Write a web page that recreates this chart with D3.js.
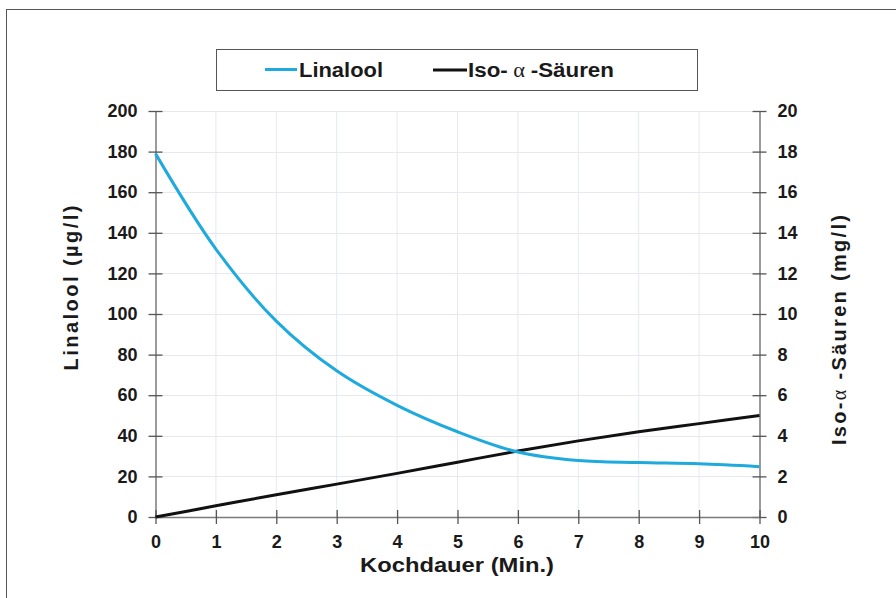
<!DOCTYPE html>
<html>
<head>
<meta charset="utf-8">
<script src="https://cdn.jsdelivr.net/npm/d3@7/dist/d3.min.js"></script>
<style>
  body { margin: 0; background: #fff; }
  svg { display: block; }
  text { font-family: "Liberation Sans", Arial, sans-serif; font-weight: bold; fill: #1a1a1a; }
</style>
</head>
<body>
<svg id="chart" width="896" height="598"></svg>
<script>
const minutes = [0, 1, 2, 3, 4, 5, 6, 7, 8, 9, 10];
const linalool = [179, 132, 96.5, 72, 55, 42, 32, 27.8, 26.8, 26.2, 24.8];
const isoAlpha = [0, 0.55, 1.1, 1.62, 2.15, 2.7, 3.25, 3.75, 4.2, 4.6, 5.0];
const leftTicks = [0, 20, 40, 60, 80, 100, 120, 140, 160, 180, 200];
const rightTicks = [0, 2, 4, 6, 8, 10, 12, 14, 16, 18, 20];
const xTicks = [0, 1, 2, 3, 4, 5, 6, 7, 8, 9, 10];

const svg = d3.select("#chart");
const x = d3.scaleLinear().domain([0, 10]).range([155.5, 759.5]);
const yL = d3.scaleLinear().domain([0, 200]).range([517, 111]);
const yR = d3.scaleLinear().domain([0, 20]).range([517, 111]);

// outer frame
svg.append("rect").attr("x", 6.5).attr("y", 9.5).attr("width", 900).attr("height", 600)
  .attr("fill", "none").attr("stroke", "#555").attr("stroke-width", 1);

// grid
const grid = svg.append("g").attr("stroke", "#e6e9f0").attr("stroke-width", 1);
grid.selectAll(".h").data(leftTicks.slice(1)).join("line")
  .attr("x1", x(0)).attr("x2", x(10))
  .attr("y1", d => Math.round(yL(d)) + 0.5).attr("y2", d => Math.round(yL(d)) + 0.5);
grid.selectAll(".v").data(xTicks.slice(1, -1)).join("line")
  .attr("y1", yL(0)).attr("y2", yL(200))
  .attr("x1", d => x(d)).attr("x2", d => x(d));

function styleAxis(g) {
  g.select(".domain").attr("stroke", "#7a7a7a").attr("stroke-width", 1.5);
  g.selectAll(".tick line").attr("stroke", "#555").attr("stroke-width", 1.3);
  g.selectAll(".tick text").attr("font-size", 18).attr("fill", "#1a1a1a")
    .style("font-family", '"Liberation Sans", Arial, sans-serif').style("font-weight", "bold");
}

const gL = svg.append("g").attr("transform", `translate(${x(0)},0)`)
  .call(d3.axisLeft(yL).tickValues(leftTicks).tickSize(7).tickPadding(11).tickSizeOuter(0));
gL.selectAll(".tick line").attr("x1", 7);
styleAxis(gL);

const gR = svg.append("g").attr("transform", `translate(${x(10)},0)`)
  .call(d3.axisRight(yR).tickValues(rightTicks).tickSize(7).tickPadding(11).tickSizeOuter(0));
gR.selectAll(".tick line").attr("x1", -7);
styleAxis(gR);

const gB = svg.append("g").attr("transform", `translate(0,${yL(0)})`)
  .call(d3.axisBottom(x).tickValues(xTicks).tickSize(7).tickPadding(11).tickSizeOuter(0));
gB.selectAll(".tick line").attr("y1", -7);
styleAxis(gB);

// lines
svg.append("path").datum(minutes.map((m, i) => [m, isoAlpha[i]]))
  .attr("fill", "none").attr("stroke", "#111").attr("stroke-width", 3)
  .attr("d", d3.line().x(d => x(d[0])).y(d => yR(d[1])).curve(d3.curveMonotoneX));
svg.append("path").datum(minutes.map((m, i) => [m, linalool[i]]))
  .attr("fill", "none").attr("stroke", "#1eaadc").attr("stroke-width", 3)
  .attr("stroke-linejoin", "round")
  .attr("d", d3.line().x(d => x(d[0])).y(d => yL(d[1])).curve(d3.curveCatmullRom.alpha(0.5)));

// axis titles
svg.append("text").attr("x", 457).attr("y", 572).attr("text-anchor", "middle")
  .attr("font-size", 21).attr("textLength", 194).attr("lengthAdjust", "spacingAndGlyphs")
  .text("Kochdauer (Min.)");

svg.append("text").attr("transform", "translate(78,288) rotate(-90)").attr("text-anchor", "middle")
  .attr("font-size", 20).attr("textLength", 165).attr("lengthAdjust", "spacing")
  .text("Linalool  (µg/l)");

const rt = svg.append("text").attr("transform", "translate(846,330) rotate(-90)").attr("text-anchor", "middle")
  .attr("font-size", 20).attr("textLength", 230).attr("lengthAdjust", "spacing");
rt.append("tspan").text("Iso-");
rt.append("tspan").style("font-family", '"Liberation Serif", serif').style("font-weight", "normal").text("α");
rt.append("tspan").text(" -Säuren  (mg/l)");

// legend
const leg = svg.append("g");
leg.append("rect").attr("x", 216.5).attr("y", 49.5).attr("width", 481).attr("height", 41)
  .attr("fill", "#fff").attr("stroke", "#555").attr("stroke-width", 1);
leg.append("line").attr("x1", 265).attr("x2", 297).attr("y1", 69.5).attr("y2", 69.5)
  .attr("stroke", "#1eaadc").attr("stroke-width", 3);
leg.append("text").attr("x", 299).attr("y", 77).attr("font-size", 20)
  .attr("textLength", 84).attr("lengthAdjust", "spacingAndGlyphs").text("Linalool");
leg.append("line").attr("x1", 433).attr("x2", 467).attr("y1", 70).attr("y2", 70)
  .attr("stroke", "#111").attr("stroke-width", 3);
const lt = leg.append("text").attr("x", 468).attr("y", 77).attr("font-size", 20)
  .attr("textLength", 146).attr("lengthAdjust", "spacingAndGlyphs");
lt.append("tspan").text("Iso-");
lt.append("tspan").style("font-family", '"Liberation Serif", serif').style("font-weight", "normal").text(" α ");
lt.append("tspan").text("-Säuren");
</script>
</body>
</html>
